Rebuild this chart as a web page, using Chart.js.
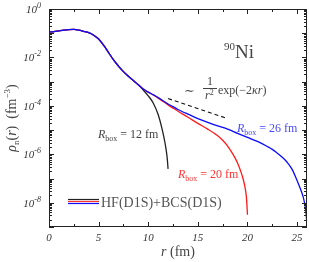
<!DOCTYPE html>
<html>
<head>
<meta charset="utf-8">
<script src="https://cdn.jsdelivr.net/npm/chart.js@4"></script>
<style>
  html, body { margin: 0; padding: 0; background: #fff; }
  canvas { display: block; }
</style>
</head>
<body>
<canvas id="density_chart" width="309" height="262"></canvas>
<script>
// radius grid (fm) and neutron density values
var rCore = [0, 0.5, 1, 1.5, 2, 2.5, 3, 3.5, 4, 4.5, 5, 5.5, 6, 6.5, 7, 7.5, 8, 8.5, 9];
var rhoCore = [1.12e-1, 1.17e-1, 1.26e-1, 1.35e-1, 1.41e-1, 1.43e-1, 1.35e-1, 1.20e-1, 1.05e-1, 8.3e-2,
               5.8e-2, 3.2e-2, 1.6e-2, 7.9e-3, 4.4e-3, 2.6e-3, 1.66e-3, 1.12e-3, 7.4e-4];

var rTail26 = [9.5, 10, 10.5, 11, 11.5, 12, 12.5, 13, 13.5, 14, 15, 16, 17, 18, 19, 20, 21, 22, 22.5, 23, 23.5, 24, 24.5, 25, 25.4, 25.7, 25.9, 26];
var rhoTail26 = [5.0e-4, 3.7e-4, 2.9e-4, 2.2e-4, 1.62e-4, 1.2e-4, 9.3e-5, 7.1e-5, 5.6e-5, 4.6e-5, 3.0e-5, 2.1e-5, 1.5e-5, 1.1e-5,
                 7.4e-6, 5.0e-6, 3.4e-6, 2.1e-6, 1.6e-6, 1.12e-6, 7.6e-7, 4.7e-7, 2.4e-7, 8.3e-8, 3.2e-8, 1.26e-8, 4.0e-9, 1.1e-9];

var rTail20 = [9.5, 10, 10.5, 11, 11.5, 12, 12.5, 13, 14, 15, 16, 17, 17.5, 18, 18.5, 19, 19.4, 19.7, 19.9, 20];
var rhoTail20 = [5.0e-4, 3.7e-4, 2.8e-4, 2.1e-4, 1.51e-4, 1.1e-4, 8.1e-5, 6.0e-5, 3.4e-5, 1.9e-5, 1.1e-5, 5.8e-6, 3.8e-6,
                 2.2e-6, 1.07e-6, 4.4e-7, 1.6e-7, 5.6e-8, 1.6e-8, 3.2e-9];

var rTail12 = [9.5, 10, 10.5, 11, 11.4, 11.7, 11.9, 12];
var rhoTail12 = [4.5e-4, 2.6e-4, 1.32e-4, 4.4e-5, 1.1e-5, 2.8e-6, 7.9e-7, 2.5e-7];

// asymptotic guide line ~ 1/r^2 exp(-2 kappa r)
var rGuide = [12, 18];
var rhoGuide = [2.0e-4, 3.0e-5];

var xTicks = [0, 5, 10, 15, 20, 25];
var yTickExp = [0, -2, -4, -6, -8];

function toPoints(rs, vals) {
    return rs.map(function(r, i) { return { x: r, y: vals[i] }; });
}

var serif = '"Liberation Serif", "DejaVu Serif", serif';

// draws text made of pieces: [text, fontSize, italic, dy]
function richText(ctx, x, y, parts, color, align) {
    var total = 0;
    parts.forEach(function(p) {
        ctx.font = (p[2] ? 'italic ' : '') + p[1] + 'px ' + serif;
        p.w = ctx.measureText(p[0]).width;
        total += p.w;
    });
    var cx = align === 'right' ? x - total : (align === 'center' ? x - total / 2 : x);
    ctx.fillStyle = color;
    ctx.textAlign = 'left';
    ctx.textBaseline = 'alphabetic';
    parts.forEach(function(p) {
        ctx.font = (p[2] ? 'italic ' : '') + p[1] + 'px ' + serif;
        ctx.fillText(p[0], cx, y + (p[3] || 0));
        cx += p.w;
    });
}

var framePlugin = {
    id: 'frame',
    afterDraw: function(chart) {
        var ctx = chart.ctx;
        var a = chart.chartArea;
        var xs = chart.scales.x, ys = chart.scales.y;
        ctx.save();

        // frame
        ctx.strokeStyle = '#222';
        ctx.lineWidth = 1;
        ctx.strokeRect(a.left + 0.5, a.top + 0.5, a.right - a.left - 1, a.bottom - a.top - 1);

        // x ticks, pointing inward on bottom and top
        ctx.beginPath();
        for (var v = 0; v <= 26; v += 2.5) {
            var px = Math.round(xs.getPixelForValue(v)) + 0.5;
            var len = (v % 5 === 0) ? 5 : 3;
            ctx.moveTo(px, a.bottom); ctx.lineTo(px, a.bottom - len);
            ctx.moveTo(px, a.top); ctx.lineTo(px, a.top + len);
        }
        // y ticks, decades and minor
        for (var e = -9; e <= 0; e++) {
            for (var m = 1; m <= 9; m++) {
                var val = m * Math.pow(10, e);
                if (val > 1.0001) break;
                var py = Math.round(ys.getPixelForValue(val)) + 0.5;
                var l = m === 1 ? 5 : 3;
                ctx.moveTo(a.left, py); ctx.lineTo(a.left + l, py);
                ctx.moveTo(a.right, py); ctx.lineTo(a.right - l, py);
            }
        }
        ctx.stroke();

        // tick labels
        xTicks.forEach(function(t) {
            richText(ctx, xs.getPixelForValue(t), 241, [[String(t), 11, true]], '#333', 'center');
        });
        yTickExp.forEach(function(e) {
            var py = ys.getPixelForValue(Math.pow(10, e));
            var sup = e === 0 ? '0' : '-' + (-e);
            richText(ctx, 41, py + 4, [['10', 11, true], [sup, 8, true, -5]], '#333', 'right');
        });

        // axis titles
        richText(ctx, (a.left + a.right) / 2, 256, [['r', 14, true], [' (fm)', 14, false]], '#444', 'center');
        ctx.save();
        ctx.translate(16, (a.top + a.bottom) / 2);
        ctx.rotate(-Math.PI / 2);
        richText(ctx, 0, 0, [['ρ', 14, true], ['n', 9, false, 3], ['(', 14, false], ['r', 14, true], [')  (fm', 14, false], ['−3', 9, false, -6], [')', 14, false]], '#444', 'center');
        ctx.restore();

        // annotations
        richText(ctx, 224, 58, [['90', 11, false, -8], ['Ni', 19, false]], '#444', 'left');
        richText(ctx, 184, 95, [['∼', 13, false]], '#444', 'left');
        richText(ctx, 210, 85, [['1', 12, false]], '#444', 'center');
        ctx.strokeStyle = '#444';
        ctx.beginPath(); ctx.moveTo(203, 88.5); ctx.lineTo(217, 88.5); ctx.stroke();
        richText(ctx, 205, 99, [['r', 12, true], ['2', 8, false, -4]], '#444', 'left');
        richText(ctx, 218, 94, [['exp(−2', 12, false], ['κr', 12, true], [')', 12, false]], '#444', 'left');

        richText(ctx, 98, 138, [['R', 12, true], ['box', 8, false, 3], [' = 12 fm', 12, false]], '#444', 'left');
        richText(ctx, 178, 178, [['R', 12, true], ['box', 8, false, 3], [' = 20 fm', 12, false]], '#ff3333', 'left');
        richText(ctx, 237, 132, [['R', 12, true], ['box', 8, false, 3], [' = 26 fm', 12, false]], '#4848ff', 'left');

        // legend
        [['#222', 199.5], ['#ff3030', 201.5], ['#1010ff', 203.5]].forEach(function(s) {
            ctx.strokeStyle = s[0];
            ctx.lineWidth = 1.2;
            ctx.beginPath(); ctx.moveTo(68, s[1]); ctx.lineTo(99, s[1]); ctx.stroke();
        });
        richText(ctx, 101, 207, [['HF(D1S)+BCS(D1S)', 14, false]], '#555', 'left');

        ctx.restore();
    }
};

var lineStyle = { borderWidth: 1.3, pointRadius: 0, fill: false, cubicInterpolationMode: 'monotone' };

new Chart(document.getElementById('density_chart'), {
    type: 'line',
    data: {
        datasets: [
            Object.assign({ data: toPoints(rCore.concat(rTail26), rhoCore.concat(rhoTail26)), borderColor: '#0a0aff' }, lineStyle),
            Object.assign({ data: toPoints(rCore.concat(rTail20), rhoCore.concat(rhoTail20)), borderColor: '#ff1a1a' }, lineStyle),
            Object.assign({ data: toPoints(rCore.concat(rTail12), rhoCore.concat(rhoTail12)), borderColor: '#222' }, lineStyle),
            { data: toPoints(rGuide, rhoGuide), borderColor: '#111', borderWidth: 1.1, borderDash: [4, 3], pointRadius: 0 }
        ]
    },
    options: {
        responsive: false,
        animation: false,
        devicePixelRatio: 1,
        layout: { padding: { top: 9, right: 2, left: 0, bottom: 0 } },
        plugins: { legend: { display: false }, tooltip: { enabled: false } },
        scales: {
            x: {
                type: 'linear', min: 0, max: 26,
                ticks: { display: false },
                grid: { display: false },
                border: { display: false },
                afterFit: function(s) { s.height = 35; }
            },
            y: {
                type: 'logarithmic', min: 1e-9, max: 1,
                ticks: { display: false },
                grid: { display: false },
                border: { display: false },
                afterFit: function(s) { s.width = 49; }
            }
        }
    },
    plugins: [framePlugin]
});
</script>
</body>
</html>
